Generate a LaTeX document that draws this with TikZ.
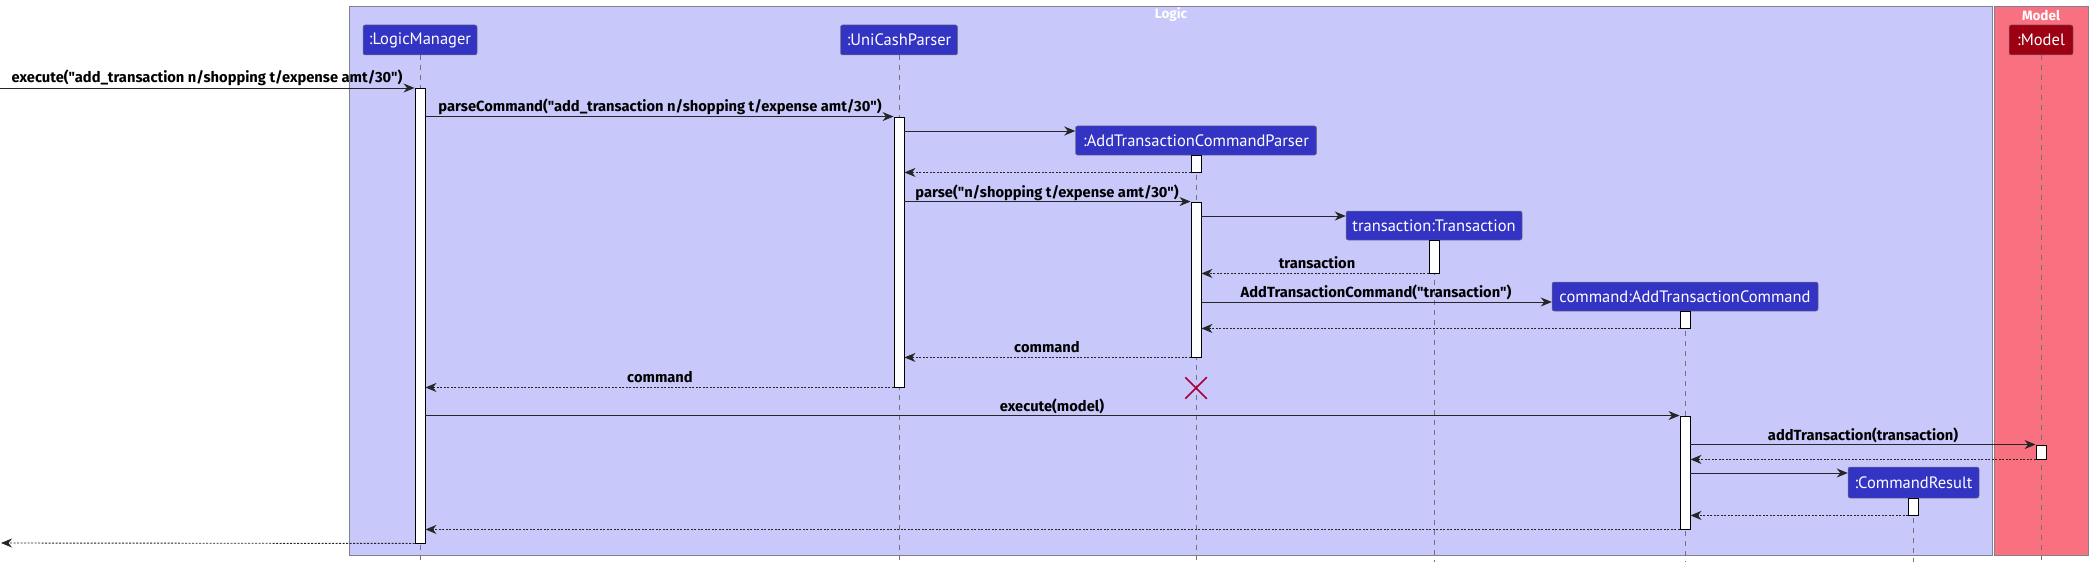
\documentclass[tikz,border=0pt]{standalone}
\usepackage{fontspec}
\setmainfont{PT Sans}
\newfontfamily\lblfont{Fira Sans}
\usetikzlibrary{arrows.meta,shapes.misc}
\definecolor{logicC}{HTML}{3333C4}
\definecolor{logicT}{HTML}{C8C8FA}
\definecolor{modelC}{HTML}{9D0012}
\definecolor{modelT}{HTML}{F97181}
\definecolor{crossC}{HTML}{A80036}
\definecolor{frameC}{HTML}{80808F}
\begin{document}
\begin{tikzpicture}[x=1pt,y=-1pt,
  frame/.style={draw=frameC, line width=0.9pt},
  ftitle/.style={text=white, font=\lblfont\bfseries\fontsize{13.5}{15}\selectfont, inner sep=0},
  part/.style={draw=black!55, line width=0.5pt, rounded corners=2pt, text=white,
    font=\fontsize{16.5}{18}\selectfont, inner sep=0, fill=logicC},
  lifeline/.style={draw=black!55, dash pattern=on 5pt off 5pt, line width=0.7pt},
  actbar/.style={draw=black, fill=white, line width=0.9pt, inner sep=0, minimum width=10pt},
  msg/.style={-{Stealth[length=11pt,width=9pt,inset=3.5pt]}, line width=0.9pt, draw=black!85},
  ret/.style={msg, dash pattern=on 2pt off 1.5pt},
  lbl/.style={font=\lblfont\bfseries\fontsize{14.7}{16}\selectfont, anchor=base, inner sep=0}
]
\useasboundingbox (0,0) rectangle (2092,567);
% frames
\draw[frame, fill=logicT] (349,6) rectangle (1992,555);
\draw[frame, fill=modelT] (1994,6) rectangle (2088,555);
\node[ftitle] (tlogic) at (1171,15) {Logic};
\node[ftitle] (tmodel) at (2041,15) {Model};
% participants
\node[part, minimum width=114pt, minimum height=30pt] (lm) at (420,40) {:LogicManager};
\node[part, minimum width=117pt, minimum height=30pt] (uc) at (899,40) {:UniCashParser};
\node[part, minimum width=241pt, minimum height=29pt] (atcp) at (1196,140.5) {:AddTransactionCommandParser};
\node[part, minimum width=176pt, minimum height=29pt] (tr) at (1434,225.5) {transaction:Transaction};
\node[part, minimum width=266pt, minimum height=29pt] (cmd) at (1685,296.5) {command:AddTransactionCommand};
\node[part, minimum width=131pt, minimum height=31pt] (cr) at (1913.5,482.5) {:CommandResult};
\node[part, fill=modelC, minimum width=64pt, minimum height=30pt] (md) at (2041,40) {:Model};
% lifeline ends
\coordinate (lmE) at (420,562);
\coordinate (ucE) at (899,562);
\coordinate (atcpE) at (1196,562);
\coordinate (trE) at (1434,562);
\coordinate (cmdE) at (1685,562);
\coordinate (crE) at (1913.5,562);
\coordinate (mdE) at (2041,562);
\draw[lifeline] (lm.south) -- (lmE);
\draw[lifeline] (uc.south) -- (ucE);
\draw[lifeline] (atcp.south) -- (atcpE);
\draw[lifeline] (tr.south) -- (trE);
\draw[lifeline] (cmd.south) -- (cmdE);
\draw[lifeline] (cr.south) -- (crE);
\draw[lifeline] (md.south) -- (mdE);
% activation bars
\node[actbar, minimum height=455pt] (lmA) at (420,315.5) {};
\node[actbar, minimum height=270pt] (ucA) at (899,252) {};
\node[actbar, minimum height=17pt] (atcpA1) at (1196,163.5) {};
\node[actbar, minimum height=155pt] (atcpA2) at (1196,279.5) {};
\node[actbar, minimum height=33pt] (trA) at (1434,256.5) {};
\node[actbar, minimum height=17pt] (cmdA1) at (1685,319.5) {};
\node[actbar, minimum height=113pt] (cmdA2) at (1685,472.5) {};
\node[actbar, minimum height=14pt] (mdA) at (2041,452) {};
\node[actbar, minimum height=17pt] (crA) at (1913.5,506.5) {};
% free ends
\coordinate (inL) at (0,88);
\coordinate (outL) at (1,543);
% messages
\draw[msg] (inL) -- (lmA.west |- inL);
\node[lbl] (l1) at (207,83) {execute("add\_transaction n/shopping t/expense amt/30")};
\draw[msg] (lmA.east |- ucA.north) -- (ucA.north west);
\node[lbl] (l2) at (660,112) {parseCommand("add\_transaction n/shopping t/expense amt/30")};
\draw[msg] (ucA.east |- 0,131) -- (atcp.west |- 0,131);
\draw[ret] (atcpA1.south west) -- (ucA.east |- atcpA1.south);
\draw[msg] (ucA.east |- atcpA2.north) -- (atcpA2.north west);
\node[lbl] (l3) at (1047,197) {parse("n/shopping t/expense amt/30")};
\draw[msg] (atcpA2.east |- 0,216) -- (tr.west |- 0,216);
\draw[ret] (trA.south west) -- (atcpA2.east |- trA.south);
\node[lbl] (l4) at (1317,268) {transaction};
\draw[msg] (atcpA2.east |- 0,302) -- (cmd.west |- 0,302);
\node[lbl] (l5) at (1376,297) {AddTransactionCommand("transaction")};
\draw[ret] (cmdA1.south west) -- (atcpA2.east |- cmdA1.south);
\draw[ret] (atcpA2.south west) -- (ucA.east |- atcpA2.south);
\node[lbl] (l6) at (1047,352) {command};
\draw[ret] (ucA.south west) -- (lmA.east |- ucA.south);
\node[lbl] (l7) at (660,382) {command};
\node[cross out, draw=crossC, line width=1.5pt, minimum size=20pt, inner sep=0] (kill) at (1196,388) {};
\draw[msg] (lmA.east |- cmdA2.north) -- (cmdA2.north west);
\node[lbl] (l8) at (1052,411) {execute(model)};
\draw[msg] (cmdA2.east |- mdA.north) -- (mdA.north west);
\node[lbl] (l9) at (1863,440) {addTransaction(transaction)};
\draw[ret] (mdA.south west) -- (cmdA2.east |- mdA.south);
\draw[msg] (cmdA2.east |- 0,473) -- (cr.west |- 0,473);
\draw[ret] (crA.south west) -- (cmdA2.east |- crA.south);
\draw[ret] (cmdA2.south west) -- (lmA.east |- cmdA2.south);
\draw[ret] (lmA.south west) -- (outL);
\end{tikzpicture}
\end{document}
